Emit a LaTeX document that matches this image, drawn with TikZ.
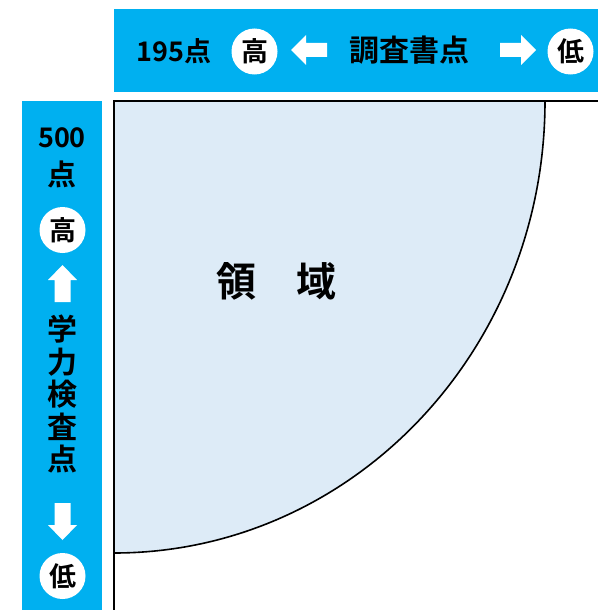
\documentclass[tikz,border=0pt]{standalone}
\usepackage{fontspec}
\setmainfont{Noto Sans CJK JP}[BoldFont={* Bold}]
\newfontfamily\cjkb{Noto Sans CJK JP Bold}
\definecolor{banner}{HTML}{00B0F0}
\definecolor{areafill}{HTML}{DDEBF7}
\tikzset{
  lbl/.style={font=\cjkb\fontsize{27}{30}\selectfont, inner sep=0pt, text=black},
  biglbl/.style={font=\cjkb\fontsize{30}{32.5}\selectfont, inner sep=0pt, text=black},
  circ/.style={circle, fill=white, minimum size=46pt, inner sep=0pt, font=\cjkb\fontsize{27}{28}\selectfont},
  blockarrow/.style={fill=white, draw=none},
  axisline/.style={draw=black, line width=2pt},
}
\begin{document}
\begin{tikzpicture}[x=1pt,y=-1pt]
\useasboundingbox (0,0) rectangle (598,610);
% banners
\fill[banner] (114,9) rectangle (598,92);
\fill[banner] (22,101) rectangle (102,610);
% area
\fill[areafill] (114,101) -- (545,101) arc[start angle=0, end angle=-90, x radius=431, y radius=-452] -- cycle;
\draw[black, line width=1.6pt] (545,101) arc[start angle=0, end angle=-90, x radius=431, y radius=-452];
\draw[axisline] (114,610) -- (114,101) -- (598,101);
\node[font=\cjkb\fontsize{40}{42}\selectfont] (area) at (276,281) {領　域};
% top banner
\node[lbl, anchor=center] (t195) at (174,51) {195点};
\node[circ] (thigh) at (254.5,51.5) {高};
\node[biglbl] (tlabel) at (409,50) {調査書点};
\node[circ] (tlow) at (570.5,51.5) {低};
\fill[blockarrow] (291,50) -- (306,35) -- (306,43) -- (327,43) -- (327,57) -- (306,57) -- (306,65) -- cycle;
\fill[blockarrow] (536,50) -- (521,35) -- (521,43) -- (500,43) -- (500,57) -- (521,57) -- (521,65) -- cycle;
% left banner
\node[lbl] (l500) at (62,138) {500};
\node[lbl, font=\cjkb\fontsize{29}{30}\selectfont] (lpt) at (62,174) {点};
\node[circ] (lhigh) at (62.5,230) {高};
\fill[blockarrow] (62.5,265) -- (77,280) -- (70.5,280) -- (70.5,302) -- (54.5,302) -- (54.5,280) -- (48,280) -- cycle;
\node[biglbl, align=center] (llabel) at (62,394) {学\\力\\検\\査\\点};
\fill[blockarrow] (62.5,540) -- (77,525) -- (70.5,525) -- (70.5,503) -- (54.5,503) -- (54.5,525) -- (48,525) -- cycle;
\node[circ] (llow) at (62.5,576) {低};
\end{tikzpicture}
\end{document}
